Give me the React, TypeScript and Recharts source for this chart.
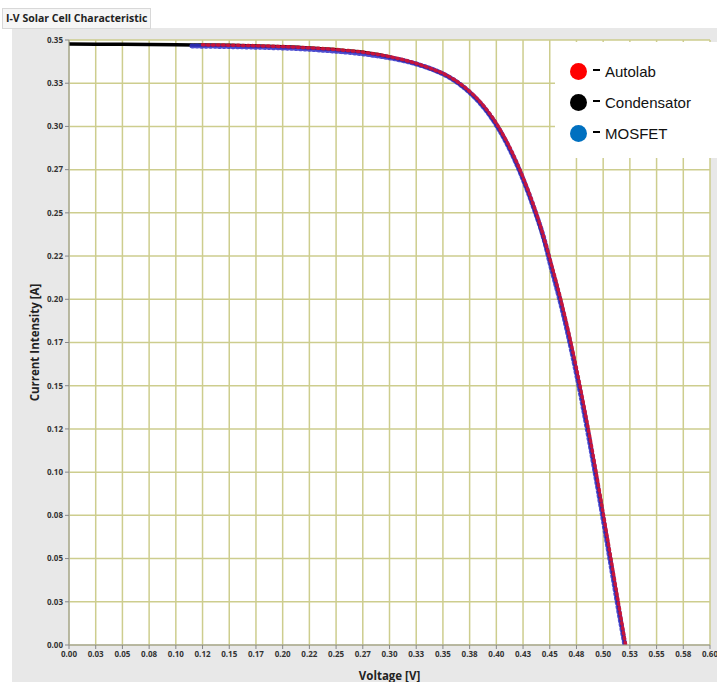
import React from "react";
import { LineChart, Line, XAxis, YAxis, CartesianGrid } from "recharts";

const X_TICKS = [0, 0.025, 0.05, 0.075, 0.1, 0.125, 0.15, 0.175, 0.2, 0.225, 0.25, 0.275, 0.3, 0.325, 0.35, 0.375, 0.4, 0.425, 0.45, 0.475, 0.5, 0.525, 0.55, 0.575, 0.6];
const X_TICK_LABELS = ["0.00", "0.03", "0.05", "0.08", "0.10", "0.12", "0.15", "0.17", "0.20", "0.22", "0.25", "0.27", "0.30", "0.33", "0.35", "0.38", "0.40", "0.43", "0.45", "0.48", "0.50", "0.53", "0.55", "0.58", "0.60"];
const Y_TICKS = [0, 0.025, 0.05, 0.075, 0.1, 0.125, 0.15, 0.175, 0.2, 0.225, 0.25, 0.275, 0.3, 0.325, 0.35];
const Y_TICK_LABELS = ["0.00", "0.03", "0.05", "0.08", "0.10", "0.12", "0.15", "0.17", "0.20", "0.22", "0.25", "0.27", "0.30", "0.33", "0.35"];

const CONDENSATOR_V = [0, 0.025, 0.05, 0.075, 0.1, 0.125, 0.15, 0.175, 0.2, 0.225, 0.25, 0.275, 0.3, 0.32, 0.34, 0.35, 0.36, 0.37, 0.38, 0.39, 0.4, 0.41, 0.42, 0.43, 0.44, 0.4512, 0.4598, 0.4675, 0.4745, 0.481, 0.4871, 0.4929, 0.4985, 0.504, 0.5095, 0.515, 0.5206];
const CONDENSATOR_I = [0.3477, 0.3476, 0.3475, 0.3474, 0.3473, 0.3471, 0.3469, 0.3466, 0.3461, 0.3454, 0.3444, 0.3429, 0.3402, 0.3372, 0.333, 0.3305, 0.327, 0.3225, 0.3169, 0.3099, 0.3011, 0.2902, 0.2771, 0.2617, 0.2439, 0.22, 0.2, 0.18, 0.16, 0.14, 0.12, 0.1, 0.08, 0.06, 0.04, 0.02, 0];

const AUTOLAB_V = [0.125, 0.15, 0.175, 0.2, 0.225, 0.25, 0.275, 0.3, 0.32, 0.34, 0.35, 0.36, 0.37, 0.38, 0.39, 0.4, 0.41, 0.42, 0.43, 0.44, 0.4517, 0.4603, 0.468, 0.475, 0.4815, 0.4876, 0.4934, 0.499, 0.5045, 0.51, 0.5155, 0.521];
const AUTOLAB_I = [0.3472, 0.347, 0.3467, 0.3462, 0.3455, 0.3445, 0.343, 0.3404, 0.3374, 0.3332, 0.3307, 0.3273, 0.3229, 0.3174, 0.3105, 0.3018, 0.291, 0.278, 0.2627, 0.245, 0.22, 0.2, 0.18, 0.16, 0.14, 0.12, 0.1, 0.08, 0.06, 0.04, 0.02, 0];

const MOSFET_V = [0.115, 0.14, 0.165, 0.19, 0.215, 0.24, 0.265, 0.29, 0.31, 0.33, 0.345, 0.355, 0.365, 0.375, 0.385, 0.395, 0.405, 0.415, 0.425, 0.435, 0.445, 0.4507, 0.4593, 0.467, 0.474, 0.4805, 0.4866, 0.4924, 0.498, 0.5035, 0.509, 0.5145, 0.5203];
const MOSFET_I = [0.3465, 0.3463, 0.346, 0.3456, 0.345, 0.344, 0.3427, 0.3407, 0.3385, 0.3352, 0.3318, 0.3288, 0.3248, 0.3197, 0.3134, 0.3055, 0.2957, 0.2837, 0.2695, 0.253, 0.234, 0.22, 0.2, 0.18, 0.16, 0.14, 0.12, 0.1, 0.08, 0.06, 0.04, 0.02, 0];

const SERIES_NAMES = ["Autolab", "Condensator", "MOSFET"];
const SERIES_COLORS = ["#ff0000", "#000000", "#0070c0"];

const zip = (v: number[], i: number[]) => v.map((x, k) => ({ v: x, i: i[k] }));
const condensatorData = zip(CONDENSATOR_V, CONDENSATOR_I);
const autolabData = zip(AUTOLAB_V, AUTOLAB_I);
const mosfetData = zip(MOSFET_V, MOSFET_I);

const tickStyle = { fontSize: 8, fill: "#333", fontWeight: 700, fontFamily: "Open Sans" };

const LegendBox = () => (
  <div style={{ position: "absolute", left: 555, top: 42, width: 162, height: 116, background: "#ffffff", fontFamily: "Liberation Sans, Arial, sans-serif" }}>
    {SERIES_NAMES.map((name, k) => (
      <div key={name} style={{ position: "absolute", left: 15, top: 20 + k * 31, height: 18, display: "flex", alignItems: "center" }}>
        <div style={{ width: 17, height: 17, borderRadius: "50%", background: SERIES_COLORS[k] }} />
        <div style={{ width: 7, height: 2, background: "#000", marginLeft: 6, marginTop: -3 }} />
        <span style={{ marginLeft: 5, fontSize: 15, color: "#111" }}>{name}</span>
      </div>
    ))}
  </div>
);

export default function App() {
  return (
    <div style={{ position: "absolute", left: 0, top: 0, width: 717, height: 682, background: "#ffffff", overflow: "hidden" }}>
      <div style={{ position: "absolute", left: 12, top: 28, right: 0, bottom: 0, background: "#e8e8e8" }} />
      <div style={{ position: "absolute", left: 2, top: 8, height: 19, padding: "0 3px", border: "1px solid #d8d8d8", background: "#f6f6f6", fontFamily: "Open Sans", fontWeight: 700, fontSize: 10.5, lineHeight: "19px", color: "#222" }}>
        I-V Solar Cell Characteristic
      </div>
      <div style={{ position: "absolute", left: 0, top: 0 }}>
        <LineChart width={717} height={682} margin={{ top: 40, right: 7, left: 12, bottom: 0 }}>
          <CartesianGrid stroke="#cdcd8e" strokeWidth={1.5} fill="#ffffff" horizontalValues={Y_TICKS} verticalValues={X_TICKS} />
          <XAxis
            dataKey="v"
            type="number"
            domain={[0, 0.6]}
            ticks={X_TICKS}
            interval={0}
            allowDataOverflow
            height={37}
            tick={tickStyle}
            tickSize={4}
            tickLine={{ stroke: "#888" }}
            axisLine={{ stroke: "#999" }}
            tickFormatter={(_v: number, idx: number) => X_TICK_LABELS[idx]}
            label={{ value: "Voltage [V]", position: "center", dy: 12, style: { fontFamily: "Open Sans", fontWeight: 700, fontSize: 11.5, fill: "#222" } }}
          />
          <YAxis
            dataKey="i"
            type="number"
            domain={[0, 0.35]}
            ticks={Y_TICKS}
            interval={0}
            allowDataOverflow
            width={57}
            tick={tickStyle}
            tickSize={4}
            tickLine={{ stroke: "#888" }}
            axisLine={{ stroke: "#999" }}
            tickFormatter={(_v: number, idx: number) => Y_TICK_LABELS[idx]}
            label={{ value: "Current Intensity [A]", angle: -90, position: "center", dx: -6, style: { fontFamily: "Open Sans", fontWeight: 700, fontSize: 11.5, fill: "#222", textAnchor: "middle" } }}
          />
          <Line
            name="Condensator"
            data={condensatorData}
            dataKey="i"
            type="monotone"
            stroke="#000000"
            strokeWidth={3.5}
            dot={false}
            isAnimationActive={false}
          />
          <Line
            name="MOSFET"
            data={mosfetData}
            dataKey="i"
            type="monotone"
            stroke="#3030c8"
            strokeWidth={5}
            strokeDasharray="1.5 3"
            strokeLinecap="round"
            strokeOpacity={0.85}
            dot={false}
            isAnimationActive={false}
          />
          <Line
            name="Autolab"
            data={autolabData}
            dataKey="i"
            type="monotone"
            stroke="#e0102a"
            strokeWidth={3.5}
            strokeDasharray="1.5 3.5"
            strokeLinecap="round"
            strokeOpacity={0.85}
            dot={false}
            isAnimationActive={false}
          />
        </LineChart>
      </div>
      <LegendBox />
    </div>
  );
}
